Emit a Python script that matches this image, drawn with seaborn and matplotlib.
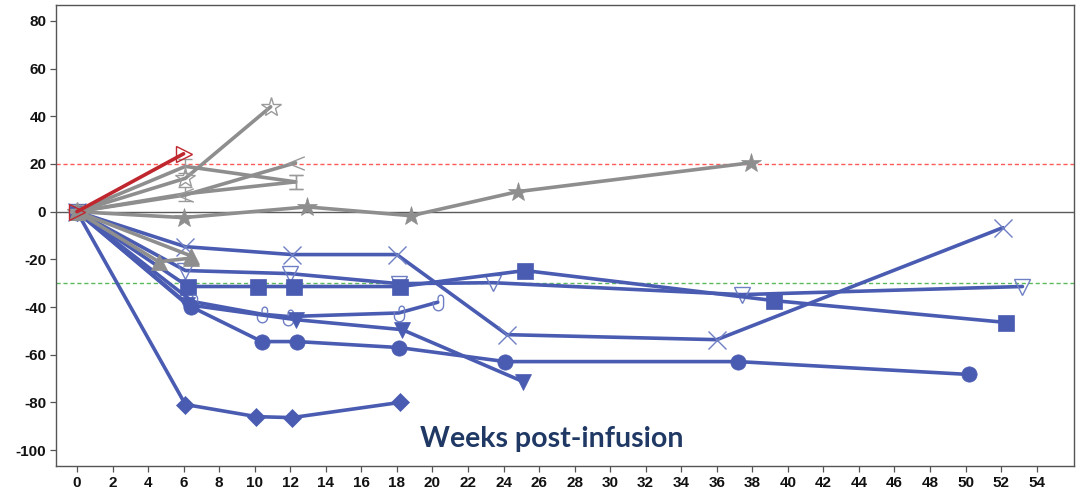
import numpy as np
import pandas as pd
import matplotlib
matplotlib.use("Agg")
import matplotlib.pyplot as plt
from matplotlib.path import Path
import seaborn as sns

# ---------------- data ----------------
x_ticks = list(range(0, 56, 2))
y_ticks = list(range(-100, 81, 20))
upper_threshold = 20
lower_threshold = -30
xlabel_text = "Weeks post-infusion"

# blue series (responders)
blue_x_weeks = [0, 6.1, 12.1, 18.0, 24.2, 36.0, 52.1]
blue_x_vals = [0, -14.7, -18, -18, -51.6, -53.7, -6.7]

blue_vtri_weeks = [0, 6.1, 12.0, 18.1, 23.4, 37.4, 53.2]
blue_vtri_vals = [0, -24.7, -26, -30.2, -29.8, -34.8, -31.4]

blue_sq_weeks = [0, 6.25, 10.2, 12.2, 18.2, 25.2, 39.2, 52.3]
blue_sq_vals = [0, -31.4, -31.4, -31.4, -31.4, -24.7, -37.3, -46.5]

blue_hook_weeks = [0, 6.5, 10.4, 11.9, 18.1, 20.3]
blue_hook_vals = [0, -37.7, -43, -44, -42.5, -38]

blue_dtri_weeks = [0, 6.2, 12.3, 18.3, 25.1]
blue_dtri_vals = [0, -39, -45.3, -49.5, -71.3]

blue_circ_weeks = [0, 6.4, 10.4, 12.4, 18.1, 24.1, 37.2, 50.2]
blue_circ_vals = [0, -39.8, -54.5, -54.5, -57, -62.9, -62.9, -68.3]

blue_dia_weeks = [0, 6.1, 10.1, 12.1, 18.2]
blue_dia_vals = [0, -80.9, -86, -86.4, -80]

# gray series
gray_star_weeks = [0, 6.0, 12.95, 18.8, 24.8, 37.9]
gray_star_vals = [0, -2.5, 2, -1.7, 8.4, 20.5]

gray_ostar_weeks = [0, 6.1, 10.9]
gray_ostar_vals = [0, 14, 44]

gray_i1_weeks = [0, 6.1, 12.3]
gray_i1_vals = [0, 19, 12.5]

gray_i2_weeks = [0, 6.1, 12.3]
gray_i2_vals = [0, 7.5, 12.5]

gray_lt_weeks = [0, 6.1, 12.3]
gray_lt_vals = [0, 7, 20.5]

gray_tri1_weeks = [0, 4.6, 6.4]
gray_tri1_vals = [0, -21, -19.5]

gray_tri2_weeks = [0, 6.4]
gray_tri2_vals = [0, -18.5]

# red series
red_weeks = [0, 6.0]
red_vals = [0, 24.3]

# ---------------- style ----------------
sns.set_theme(style="white")
plt.rcParams['font.family'] = ['Liberation Sans Narrow', 'Liberation Sans', 'DejaVu Sans']

BLUE = "#4a5cb2"
BLUE_OPEN = "#6f7fc4"
GRAY = "#8e8e8e"
GRAY_OPEN = "#9a9a9a"
RED = "#c0262e"

capI = Path([(-1, 1), (1, 1), (0, 1), (0, -1), (-1, -1), (1, -1)],
            [Path.MOVETO, Path.LINETO, Path.MOVETO, Path.LINETO, Path.MOVETO, Path.LINETO])
ltmark = Path([(1, 0.8), (-1, 0), (1, -0.8)], [Path.MOVETO, Path.LINETO, Path.LINETO])

# "ʊ"-like open marker: U-shaped bottom with a small arch on top
_t = np.linspace(np.pi, 2 * np.pi, 9)
_u = [(-0.55, 0.15)] + [(0.55 * np.cos(a), -0.35 + 0.55 * np.sin(a)) for a in _t] + [(0.55, 0.15)]
_t2 = np.linspace(0, np.pi, 7)
_arch = [(0.55, 0.15)] + [(0.25 + 0.3 * np.cos(a), 0.45 + 0.35 * np.sin(a)) for a in _t2] + [(-0.05, 0.15)]
_verts = _u + _arch[1:]
hook = Path(_verts, [Path.MOVETO] + [Path.LINETO] * (len(_verts) - 1))

fig = plt.figure(figsize=(10.81, 4.92), dpi=100)
ax = fig.add_axes([56 / 1081, 1 - 466 / 492, (1074 - 56) / 1081, (466 - 5) / 492])

ax.axhline(0, color="#5a5a5a", lw=1.0, zorder=1)
ax.axhline(upper_threshold, color="#ff5a5a", lw=1.0, ls=(0, (3, 2)), zorder=1)
ax.axhline(lower_threshold, color="#5cb85c", lw=1.0, ls=(0, (3, 2)), zorder=1)

LW = 2.6


def draw(weeks, vals, color, marker, ms, filled=True, mec=None, mew=1.0, z=3):
    kw = dict(marker=marker, markersize=ms, lw=LW, zorder=z)
    if filled:
        kw.update(markerfacecolor=color, markeredgecolor=color, markeredgewidth=0.5)
    else:
        kw.update(markerfacecolor="none", markeredgecolor=mec or color, markeredgewidth=mew)
    sns.lineplot(x=weeks, y=vals, ax=ax, color=color, estimator=None, sort=False, **kw)


# blue
draw(blue_x_weeks, blue_x_vals, BLUE, "x", 13, filled=False, mec=BLUE_OPEN, mew=1.0)
draw(blue_vtri_weeks, blue_vtri_vals, BLUE, "v", 11, filled=False, mec=BLUE_OPEN, mew=1.0)
draw(blue_sq_weeks, blue_sq_vals, BLUE, "s", 11)
draw(blue_hook_weeks, blue_hook_vals, BLUE, hook, 12, filled=False, mec=BLUE_OPEN, mew=1.0)
draw(blue_dtri_weeks, blue_dtri_vals, BLUE, "v", 11)
draw(blue_circ_weeks, blue_circ_vals, BLUE, "o", 11)
draw(blue_dia_weeks, blue_dia_vals, BLUE, "D", 9.5)

# gray
draw(gray_star_weeks, gray_star_vals, GRAY, "*", 15, z=4)
draw(gray_ostar_weeks, gray_ostar_vals, GRAY, "*", 15, filled=False, mec=GRAY_OPEN, mew=1.0, z=4)
draw(gray_i1_weeks, gray_i1_vals, GRAY, capI, 10, filled=False, mec=GRAY_OPEN, mew=1.0, z=4)
draw(gray_i2_weeks, gray_i2_vals, GRAY, capI, 10, filled=False, mec=GRAY_OPEN, mew=1.0, z=4)
draw(gray_lt_weeks, gray_lt_vals, GRAY, ltmark, 12, filled=False, mec=GRAY_OPEN, mew=1.0, z=4)
draw(gray_tri1_weeks, gray_tri1_vals, GRAY, "^", 12, z=4)
draw(gray_tri2_weeks, gray_tri2_vals, GRAY, "^", 12, z=4)

# red
draw(red_weeks, red_vals, RED, ">", 12, filled=False, mec=RED, mew=1.0, z=5)

ax.set_xlim(-1.18, 56.1)
ax.set_ylim(-106.7, 86.7)
ax.set_xticks(x_ticks)
ax.set_yticks(y_ticks)
ax.set_xticklabels([str(t) for t in x_ticks], fontweight="bold", fontsize=11)
ax.set_yticklabels([str(t) for t in y_ticks], fontweight="bold", fontsize=11)
ax.tick_params(axis="both", direction="out", length=4, width=0.9, color="#555555", pad=3,
               bottom=True, left=True, labelcolor="#111111")
ax.set_xlabel("")
ax.set_ylabel("")
for side in ["left", "bottom", "top", "right"]:
    ax.spines[side].set_visible(True)
    ax.spines[side].set_color("#555555")
    ax.spines[side].set_linewidth(1.0)

ax.text(26.7, -95.3, xlabel_text, ha="center", va="center", fontsize=20.5, fontweight="bold",
        color="#1f3864", family=["Lato", "DejaVu Sans"])

fig.savefig("out.png", dpi=100)
